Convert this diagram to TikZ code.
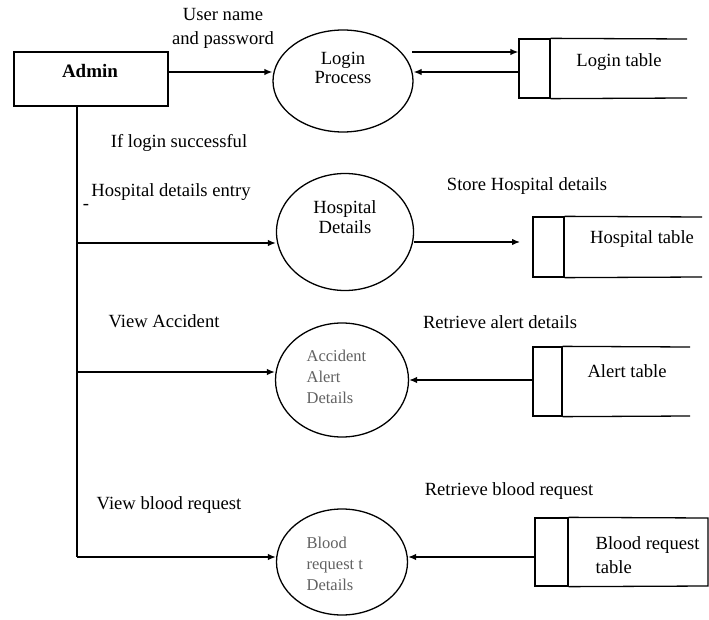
\documentclass[tikz,border=0pt]{standalone}
\usepackage{fontspec}
\setmainfont{Liberation Serif}
\usetikzlibrary{arrows.meta,shapes.geometric}
\begin{document}
\begin{tikzpicture}[x=1pt,y=-1pt,
  line width=1.3pt,
  lbl/.style={inner sep=0pt,font=\fontsize{18.6}{24}\selectfont,align=center},
  inlbl/.style={inner sep=0pt,font=\fontsize{18.6}{19.5}\selectfont,align=center},
  glbl/.style={inner sep=0pt,font=\fontsize{16.5}{21}\selectfont,align=left,text=black!62},
  proc/.style={draw,ellipse,inner sep=0pt},
  store/.style={draw,rectangle,inner sep=0pt},
  arr/.style={-{Latex[length=8pt,width=6.5pt]}}]
\useasboundingbox (0,0) rectangle (709,620);

% Admin
\node[draw,rectangle,minimum width=154pt,minimum height=54pt] (admin) at (91,79) {};
\node[inner sep=0pt,font=\fontsize{19}{20}\selectfont\bfseries] (admintxt) at (90,71) {Admin};

% Processes
\node[proc,minimum width=140pt,minimum height=102pt] (login) at (343,81) {};
\node[inlbl] (logintxt) at (343,68) {Login\\Process};
\node[proc,minimum width=137pt,minimum height=117pt] (hosp) at (345,232) {};
\node[inlbl] (hosptxt) at (345,217) {Hospital\\Details};
\node[proc,minimum width=133pt,minimum height=114pt] (acc) at (342,380) {};
\node[glbl,anchor=west] (acctxt) at (306,377) {Accident\\Alert\\Details};
\node[proc,minimum width=131pt,minimum height=106pt] (blood) at (342,562) {};
\node[glbl,anchor=west] (bloodtxt) at (306,564) {Blood\\request t\\Details};

% Data stores
\node[store,minimum width=31pt,minimum height=59pt] (lt) at (534.5,68.5) {};
\draw (lt.north east) -- (687,39);
\draw (lt.south east) -- (687,98);
\node[lbl] (lttxt) at (619,62) {Login table};

\node[store,minimum width=31pt,minimum height=60pt] (ht) at (548.5,247) {};
\draw (ht.north east) -- (702,217);
\draw (ht.south east) -- (702,277);
\node[lbl] (httxt) at (642,239) {Hospital table};

\node[store,minimum width=29pt,minimum height=69pt] (at) at (547.5,381.5) {};
\draw (at.north east) -- (690,347);
\draw (at.south east) -- (690,416);
\node[lbl] (attxt) at (627,371) {Alert table};

\node[store,minimum width=33pt,minimum height=68pt] (bt) at (551.5,552) {};
\draw (bt.north east) -- (708,518) -- (708,586) -- (bt.south east);
\node[lbl,align=left,anchor=west] (bttxt) at (595,555) {Blood request\\table};

% Connectors
\draw[arr] (admin.east |- 0,72) -- (login.west |- 0,72);
\coordinate (lp1) at (412,52);
\draw[arr] (lp1) -- (lt.west |- 0,52);
\draw[arr] (lt.west |- 0,72) -- (login.east |- 0,72);

\coordinate (trunkbot) at (77,557);
\draw (admin.south -| 77,0) -- (trunkbot);
\draw[arr] (77,243) -- (hosp.west |- 0,243);
\draw[arr] (77,372) -- (acc.west |- 0,372);
\draw[arr] (trunkbot) -- (blood.west |- 0,557);

\coordinate (hend) at (520,242);
\draw[arr] (hosp.east |- 0,242) -- (hend);
\draw[arr] (at.west |- 0,380) -- (acc.east |- 0,380);
\draw[arr] (bt.west |- 0,557) -- (blood.east |- 0,557);

% Labels
\node[lbl] (l1) at (223,28) {User name\\and password};
\node[lbl] (l2) at (179,143) {If login successful};
\node[lbl] (l3) at (171,192) {Hospital details entry};
\node[lbl] (l3b) at (86,207) {-};
\node[lbl] (l4) at (527,186) {Store Hospital details};
\node[lbl] (l5) at (164,321) {View Accident};
\node[lbl] (l6) at (500,322) {Retrieve alert details};
\node[lbl] (l7) at (169,505) {View blood request};
\node[lbl] (l8) at (509,491) {Retrieve blood request};
\end{tikzpicture}
\end{document}
